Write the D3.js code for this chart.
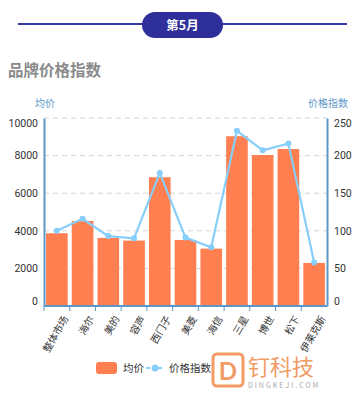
<!DOCTYPE html>
<html>
<head>
<meta charset="utf-8">
<script src="https://d3js.org/d3.v7.min.js"></script>
<style>
  body { margin: 0; background: #fff; }
  svg { display: block; font-family: "Noto Sans CJK SC", "Noto Sans", sans-serif; }
</style>
</head>
<body>
<svg id="chart" width="360" height="393"></svg>
<script>
// data
const brands = ['整体市场', '海尔', '美的', '容声', '西门子', '美菱', '海信', '三星', '博世', '松下', '伊莱克斯'];
const avgPrice = [3870, 4520, 3620, 3480, 6850, 3510, 3050, 9030, 8030, 8350, 2290];
const priceIndex = [100, 116, 93, 90, 177, 91, 78, 233, 207, 216, 58];
const leftTicks = [0, 2000, 4000, 6000, 8000, 10000];
const rightTicks = [0, 50, 100, 150, 200, 250];

const svg = d3.select('#chart');
const W = 360, H = 393;
const m = {left: 44, right: 33, top: 118, bottom: 87};
const axisColor = '#5b98c8';
const barColor = '#ff7f50';
const lineColor = '#87cefa';

// header band
svg.append('line')
    .attr('x1', 18).attr('x2', 347).attr('y1', 24).attr('y2', 24)
    .attr('stroke', '#3838a8').attr('stroke-width', 2);
svg.append('rect')
    .attr('x', 142).attr('y', 12).attr('width', 81).attr('height', 26).attr('rx', 13)
    .attr('fill', '#2f2f9c');
svg.append('text')
    .attr('x', 182.5).attr('y', 29.5).attr('text-anchor', 'middle')
    .attr('fill', '#fff').attr('font-size', 12.5).attr('font-weight', 'bold')
    .text('第5月');

svg.append('text')
    .attr('x', 8).attr('y', 76)
    .attr('fill', '#8a8a8a').attr('font-size', 15.5).attr('font-weight', 'bold')
    .text('品牌价格指数');

// scales
const x = d3.scaleBand().domain(brands).range([m.left, W - m.right]).paddingInner(0.16).paddingOuter(0.08);
const yL = d3.scaleLinear().domain([0, 10000]).range([H - m.bottom, m.top]);
const yR = d3.scaleLinear().domain([0, 250]).range([H - m.bottom, m.top]);

// grid
svg.append('g')
    .selectAll('line')
    .data(leftTicks.slice(1))
    .enter().append('line')
    .attr('x1', m.left).attr('x2', W - m.right)
    .attr('y1', d => yL(d)).attr('y2', d => yL(d))
    .attr('stroke', '#d4d4d4').attr('stroke-dasharray', '5,4');

// bars
svg.append('g')
    .selectAll('rect')
    .data(brands)
    .enter().append('rect')
    .attr('x', d => x(d))
    .attr('width', x.bandwidth())
    .attr('y', (d, i) => yL(avgPrice[i]))
    .attr('height', (d, i) => yL(0) - yL(avgPrice[i]))
    .attr('fill', barColor);

// line
const cx = d => x(d) + x.bandwidth() / 2;
svg.append('path')
    .datum(brands)
    .attr('fill', 'none')
    .attr('stroke', lineColor).attr('stroke-width', 2.2)
    .attr('d', d3.line().x(d => cx(d)).y((d, i) => yR(priceIndex[i])));
svg.append('g')
    .selectAll('circle')
    .data(brands)
    .enter().append('circle')
    .attr('cx', d => cx(d))
    .attr('cy', (d, i) => yR(priceIndex[i]))
    .attr('r', 3)
    .attr('fill', lineColor);

// axes
function styleAxis(g) {
    g.select('.domain').attr('stroke', axisColor).attr('stroke-width', 2);
    g.selectAll('.tick line').attr('stroke', axisColor);
    g.selectAll('.tick text').attr('fill', '#333').attr('font-size', 10.5)
        .attr('font-family', 'Roboto, "Noto Sans", sans-serif');
}
// end labels are pulled inside the axis range, as in the source chart
function nudgeEnds(g) {
    const t = g.selectAll('.tick text');
    const n = t.size();
    t.attr('dy', (d, i) => i === 0 ? '-0.15em' : (i === n - 1 ? '0.8em' : '0.32em'));
}
svg.append('g')
    .attr('transform', `translate(${m.left},0)`)
    .call(d3.axisLeft(yL).tickValues(leftTicks).tickFormat(d3.format('d')).tickSize(0).tickPadding(6))
    .call(styleAxis).call(nudgeEnds);
svg.append('g')
    .attr('transform', `translate(${W - m.right},0)`)
    .call(d3.axisRight(yR).tickValues(rightTicks).tickFormat(d3.format('d')).tickSize(0).tickPadding(7))
    .call(styleAxis).call(nudgeEnds);

const xBand = d3.scaleBand().domain(brands).range([m.left, W - m.right]);
const xAxis = svg.append('g')
    .attr('transform', `translate(0,${H - m.bottom})`)
    .call(d3.axisBottom(x).tickSize(5).tickPadding(4))
    .call(styleAxis);
xAxis.select('.domain').attr('d', `M${m.left},0H${W - m.right}`);
// ticks sit between categories
xAxis.selectAll('.tick line')
    .attr('x1', -xBand.bandwidth() / 2).attr('x2', -xBand.bandwidth() / 2);
xAxis.selectAll('.tick text')
    .attr('font-family', '"Noto Sans CJK SC", sans-serif')
    .attr('font-size', 10)
    .attr('text-anchor', 'end')
    .attr('dx', 0).attr('dy', 0)
    .attr('transform', 'translate(4,8) rotate(-60)');

// axis names
svg.append('text').attr('x', 35).attr('y', 107)
    .attr('fill', axisColor).attr('font-size', 10).text('均价');
svg.append('text').attr('x', 348).attr('y', 107).attr('text-anchor', 'end')
    .attr('fill', axisColor).attr('font-size', 10).text('价格指数');

// legend
const lg = svg.append('g');
lg.append('rect').attr('x', 96).attr('y', 362).attr('width', 21).attr('height', 12).attr('rx', 3).attr('fill', barColor);
lg.append('text').attr('x', 123).attr('y', 372).attr('fill', '#333').attr('font-size', 10.5).text('均价');
lg.append('line').attr('x1', 146).attr('x2', 164).attr('y1', 368).attr('y2', 368)
    .attr('stroke', lineColor).attr('stroke-width', 2).attr('stroke-dasharray', '4,2');
lg.append('circle').attr('cx', 155).attr('cy', 368).attr('r', 3.5).attr('fill', lineColor);
lg.append('text').attr('x', 169).attr('y', 372).attr('fill', '#333').attr('font-size', 10.5).text('价格指数');

// watermark
const wm = svg.append('g').attr('opacity', 0.85);
wm.append('rect').attr('x', 213).attr('y', 354).attr('width', 30).attr('height', 32).attr('rx', 4)
    .attr('fill', 'none').attr('stroke', '#f08a4b').attr('stroke-width', 3);
wm.append('text').attr('x', 228).attr('y', 380).attr('text-anchor', 'middle')
    .attr('fill', '#f08a4b').attr('font-size', 24).attr('font-weight', 'bold')
    .attr('font-family', 'Lato, sans-serif').text('D');
wm.append('text').attr('x', 248).attr('y', 375)
    .attr('fill', '#f08a4b').attr('font-size', 22).text('钉科技');
wm.append('text').attr('x', 248).attr('y', 388)
    .attr('fill', '#999').attr('font-size', 7).attr('letter-spacing', 2).text('DINGKEJI.COM');
</script>
</body>
</html>
